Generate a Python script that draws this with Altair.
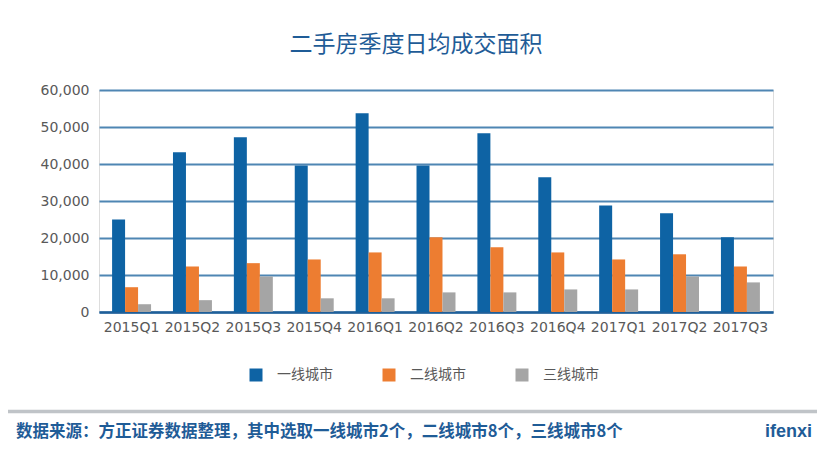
import altair as alt
import pandas as pd

quarters = ["2015Q1", "2015Q2", "2015Q3", "2015Q4", "2016Q1", "2016Q2",
            "2016Q3", "2016Q4", "2017Q1", "2017Q2", "2017Q3"]
tier1 = [25000, 43200, 47200, 39600, 53700, 39600, 48300, 36400, 28800, 26700, 20200]
tier2 = [6700, 12300, 13200, 14200, 16100, 20200, 17500, 16100, 14200, 15600, 12300]
tier3 = [2100, 3200, 9600, 3700, 3700, 5300, 5300, 6100, 6100, 9600, 8000]
series = ["一线城市", "二线城市", "三线城市"]
colors = ["#0e63a4", "#ed7d31", "#a5a5a5"]
title_text = "二手房季度日均成交面积"
footer_text = "数据来源：方正证券数据整理，其中选取一线城市2个，二线城市8个，三线城市8个"
brand_text = "ifenxi"

rows = []
for name, vals in zip(series, [tier1, tier2, tier3]):
    for q, v in zip(quarters, vals):
        rows.append({"quarter": q, "series": name, "value": v})
df = pd.DataFrame(rows)

CJK = "Noto Sans CJK SC"
LAT = "DejaVu Sans"
BLUE_TXT = "#1f5c97"

bars = alt.Chart(df).mark_bar().encode(
    x=alt.X("quarter:N", sort=quarters, title=None,
            scale=alt.Scale(paddingInner=0.36, paddingOuter=0.215),
            axis=alt.Axis(labelAngle=0, labelFont=LAT, labelFontSize=14,
                          labelColor="#595959", labelPadding=8, ticks=False,
                          domainColor="#1f5f99", domainWidth=2.5, grid=False)),
    xOffset=alt.XOffset("series:N", sort=series,
                        scale=alt.Scale(paddingInner=0, paddingOuter=0)),
    y=alt.Y("value:Q", title=None,
            scale=alt.Scale(domain=[0, 60000]),
            axis=alt.Axis(values=[0, 10000, 20000, 30000, 40000, 50000, 60000],
                          format=",.0f", labelFont=LAT, labelFontSize=14,
                          labelColor="#595959", labelPadding=10, ticks=False,
                          domain=False, gridColor="#4f86b3", gridWidth=2)),
    color=alt.Color("series:N", sort=series,
                    scale=alt.Scale(domain=series, range=colors),
                    legend=alt.Legend(title=None, orient="none", direction="horizontal",
                                      legendX=150, legendY=278,
                                      symbolType="square", symbolSize=169,
                                      symbolStrokeWidth=0, labelFont=CJK,
                                      labelFontSize=14, labelColor="#595959",
                                      labelOffset=14, columnPadding=49)),
)

title = alt.Chart(pd.DataFrame({"t": [title_text]})).mark_text(
    font=CJK, fontSize=23, color=BLUE_TXT, align="center", baseline="middle"
).encode(x=alt.value(317), y=alt.value(-45), text="t:N")

sep = alt.Chart(pd.DataFrame({"a": [0]})).mark_rule(
    color="#c0c4c8", strokeWidth=3.5
).encode(x=alt.value(-91), x2=alt.value(718), y=alt.value(321.5))

footer = alt.Chart(pd.DataFrame({"t": [footer_text]})).mark_text(
    font=CJK, fontSize=16.5, color=BLUE_TXT, align="left", baseline="middle",
    fontWeight="bold"
).encode(x=alt.value(-83), y=alt.value(342), text="t:N")

brand = alt.Chart(pd.DataFrame({"t": [brand_text]})).mark_text(
    font="Liberation Sans", fontSize=18, color=BLUE_TXT, align="right",
    baseline="middle", fontWeight="bold"
).encode(x=alt.value(713), y=alt.value(342), text="t:N")

chart = alt.layer(bars, title, sep, footer, brand).properties(
    width=674, height=222,
    autosize=alt.AutoSizeParams(type="none"),
    padding={"left": 91, "top": 82, "right": 44, "bottom": 130},
).configure_view(stroke=None).configure(background="white")

chart.save("out.html", embed_options={"renderer": "svg", "actions": False})
